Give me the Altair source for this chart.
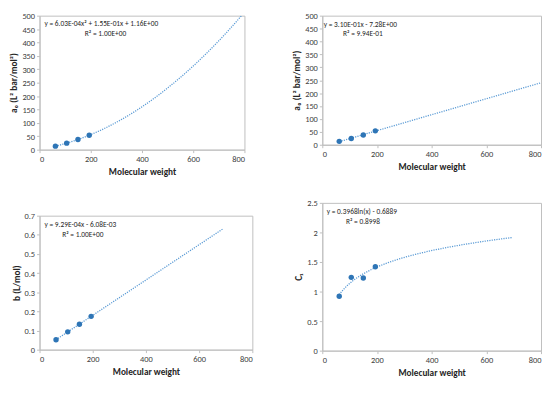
import altair as alt
import pandas as pd

# Molecular weights of the four glycols
mw = [62, 106, 150, 194]
# Parameters
a0 = [13.1, 24.3, 38.0, 53.9]
b_val = [0.052, 0.093, 0.133, 0.174]
c1 = [0.92, 1.24, 1.23, 1.42]

x_ticks = [0, 200, 400, 600, 800]
a_ticks = [0, 50, 100, 150, 200, 250, 300, 350, 400, 450, 500]
b_ticks = [0, 0.1, 0.2, 0.3, 0.4, 0.5, 0.6, 0.7]
c_ticks = [0, 0.5, 1, 1.5, 2, 2.5]

eq1 = ["y = 6.03E-04x² + 1.55E-01x + 1.16E+00", "R² = 1.00E+00"]
eq2 = ["y = 3.10E-01x - 7.28E+00", "R² = 9.94E-01"]
eq3 = ["y = 9.29E-04x - 6.08E-03", "R² = 1.00E+00"]
eq4 = ["y = 0.3968ln(x) - 0.6889", "R² = 0.8998"]

FONT = "Carlito, Lato"
PT = "#2E75B6"
LN = "#5B9BD5"


def panel(vals, ytitle, yticks, fmt, method, order, extent, eqs, w, h, eqpos):
    df = pd.DataFrame({"mw": mw, "val": vals})
    xs = alt.X("mw:Q", scale=alt.Scale(domain=[0, 800], nice=False),
               axis=alt.Axis(values=x_ticks, title="Molecular weight"))
    ys = alt.Y("val:Q", scale=alt.Scale(domain=[yticks[0], yticks[-1]], nice=False),
               axis=alt.Axis(values=yticks, title=ytitle, format=fmt))
    base = alt.Chart(df)
    reg = dict(method=method, extent=extent)
    if order is not None:
        reg["order"] = order
    line = base.transform_regression("mw", "val", **reg).mark_line(
        strokeDash=[1.2, 1.2], color=LN, strokeWidth=1.3, clip=True
    ).encode(x=xs, y=ys)
    pts = base.mark_circle(size=30, color=PT, opacity=1).encode(x=xs, y=ys)
    layers = [line, pts]
    for i, t in enumerate(eqs):
        tx = alt.Chart(pd.DataFrame({"t": [t]})).mark_text(
            align="left", baseline="middle", fontSize=7.5, font=FONT, color="#262626"
        ).encode(x=alt.value(eqpos[i][0]), y=alt.value(eqpos[i][1]), text="t:N")
        layers.append(tx)
    return alt.layer(*layers).properties(width=w, height=h)


p1 = panel(a0, "a₀ (L² bar/mol²)", a_ticks, "d", "poly", 2, [62, 790], eq1, 208, 136,
           [(5, 8.5), (46, 18.5)])
p2 = panel(a0, "a₀ (L² bar/mol²)", a_ticks, "d", "linear", None, [62, 800], eq2, 222, 131,
           [(1.5, 9), (21, 18.5)])
p3 = panel(b_val, "b (L/mol)", b_ticks, "~g", "linear", None, [62, 690], eq3, 216, 136,
           [(5, 9.5), (23, 19.5)])
p4 = panel(c1, "C₁", c_ticks, "~g", "log", None, [62, 695], eq4, 222, 150,
           [(4.5, 9.5), (24, 19)])

chart = alt.hconcat(
    alt.vconcat(p1, p3, spacing=34),
    alt.vconcat(p2, p4, spacing=26),
    spacing=38,
).properties(padding=0).configure_view(
    stroke="#bfbfbf", strokeWidth=1
).configure_axis(
    grid=False, domainColor="#bfbfbf", tickColor="#bfbfbf", tickSize=3,
    labelFont=FONT, labelFontSize=8.5, labelColor="#404040",
    titleFont=FONT, titleFontSize=9.4, titleFontWeight="bold", titleColor="#262626",
    labelPadding=2,
).configure_axisY(titlePadding=3).configure_axisX(titlePadding=5)

chart.save("out.html", embed_options={"renderer": "svg", "actions": False})
